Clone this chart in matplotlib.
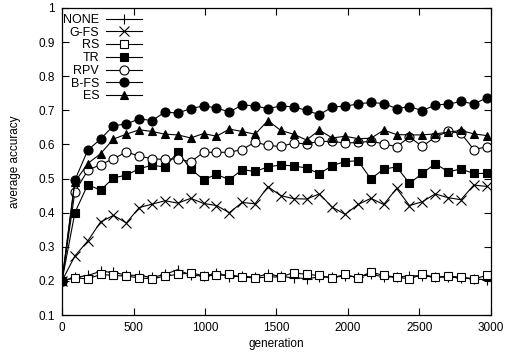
import matplotlib.pyplot as plt
from matplotlib.ticker import FuncFormatter, MultipleLocator

plt.rcParams['font.family'] = ['Liberation Sans', 'DejaVu Sans']

# generations sampled every 90 steps
generation = [i * 90 for i in range(34)]

none_acc = [0.2, 0.21, 0.216, 0.228, 0.225, 0.217, 0.216, 0.21, 0.219, 0.233, 0.216, 0.215,
            0.222, 0.212, 0.214, 0.211, 0.22, 0.213, 0.209, 0.207, 0.211, 0.211, 0.214, 0.212,
            0.219, 0.212, 0.211, 0.215, 0.215, 0.211, 0.211, 0.209, 0.206, 0.203]
gfs_acc = [0.2, 0.273, 0.317, 0.373, 0.392, 0.37, 0.415, 0.425, 0.435, 0.428, 0.442, 0.427,
           0.421, 0.4, 0.43, 0.426, 0.476, 0.45, 0.441, 0.44, 0.455, 0.416, 0.395, 0.424,
           0.442, 0.424, 0.471, 0.421, 0.432, 0.455, 0.444, 0.438, 0.481, 0.477]
rs_acc = [0.2, 0.209, 0.206, 0.219, 0.216, 0.214, 0.209, 0.206, 0.214, 0.219, 0.224, 0.215,
          0.216, 0.219, 0.211, 0.209, 0.211, 0.212, 0.224, 0.219, 0.216, 0.209, 0.219, 0.209,
          0.226, 0.216, 0.211, 0.206, 0.219, 0.211, 0.214, 0.211, 0.206, 0.216]
tr_acc = [0.2, 0.4, 0.482, 0.466, 0.502, 0.51, 0.529, 0.539, 0.534, 0.578, 0.528, 0.497,
          0.512, 0.497, 0.526, 0.521, 0.534, 0.54, 0.537, 0.531, 0.514, 0.538, 0.55, 0.552,
          0.499, 0.528, 0.534, 0.486, 0.515, 0.544, 0.52, 0.528, 0.515, 0.515]
rpv_acc = [0.2, 0.461, 0.524, 0.541, 0.558, 0.578, 0.566, 0.558, 0.556, 0.558, 0.549, 0.577,
           0.577, 0.577, 0.585, 0.607, 0.597, 0.594, 0.604, 0.602, 0.609, 0.609, 0.604, 0.606,
           0.609, 0.602, 0.593, 0.622, 0.594, 0.622, 0.638, 0.633, 0.585, 0.593]
bfs_acc = [0.2, 0.495, 0.583, 0.616, 0.655, 0.66, 0.675, 0.67, 0.695, 0.692, 0.705, 0.713,
           0.707, 0.695, 0.716, 0.713, 0.705, 0.713, 0.71, 0.70, 0.687, 0.71, 0.712, 0.719,
           0.723, 0.72, 0.705, 0.711, 0.699, 0.716, 0.718, 0.726, 0.719, 0.736]
es_acc = [0.2, 0.49, 0.544, 0.573, 0.616, 0.63, 0.643, 0.638, 0.63, 0.628, 0.619, 0.632,
          0.624, 0.645, 0.638, 0.63, 0.67, 0.641, 0.63, 0.613, 0.642, 0.619, 0.624, 0.617,
          0.618, 0.642, 0.629, 0.628, 0.628, 0.631, 0.636, 0.641, 0.631, 0.626]

series = [
    ("NONE", none_acc, dict(marker='+', markersize=7, mfc='black')),
    ("G-FS", gfs_acc, dict(marker='x', markersize=6.5, mfc='black')),
    ("RS", rs_acc, dict(marker='s', markersize=6, mfc='white')),
    ("TR", tr_acc, dict(marker='s', markersize=6, mfc='black')),
    ("RPV", rpv_acc, dict(marker='o', markersize=6.5, mfc='white')),
    ("B-FS", bfs_acc, dict(marker='o', markersize=6.5, mfc='black')),
    ("ES", es_acc, dict(marker='^', markersize=5.5, mfc='black')),
]

fig = plt.figure(figsize=(5.07, 3.57), dpi=100)
ax = fig.add_axes([0.1223, 0.1176, 0.9684 - 0.1223, 0.9776 - 0.1176])

for name, vals, style in series:
    ax.plot(generation, vals, color='black', lw=0.8, mec='black', mew=0.8,
            label=name, **style)

ax.set_xlim(0, 3000)
ax.set_ylim(0.1, 1.0)
ax.xaxis.set_major_locator(MultipleLocator(500))
ax.yaxis.set_major_locator(MultipleLocator(0.1))
ax.yaxis.set_major_formatter(FuncFormatter(lambda v, p: f'{v:g}'))
ax.tick_params(direction='in', length=5, width=0.8, top=True, right=True,
               labelsize=8.5, pad=5)
for s in ax.spines.values():
    s.set_linewidth(0.9)

ax.set_xlabel("generation", fontsize=8.5, labelpad=3)
ax.set_ylabel("average accuracy", fontsize=8.5, labelpad=13)

# markerfirst=False right-aligns the labels against the line samples
ax.legend(loc='upper left', markerfirst=False, frameon=False, fontsize=9,
          handlelength=2.9, handletextpad=0.55, labelspacing=0.06,
          borderpad=0.2, borderaxespad=0.1, bbox_to_anchor=(-0.006, 0.993))

plt.savefig('out.png', dpi=100)
plt.close()
